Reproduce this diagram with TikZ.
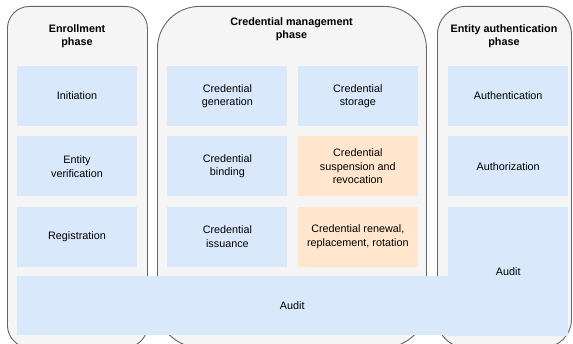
\documentclass[tikz,border=0pt]{standalone}
\usepackage{fontspec}
\setmainfont{Liberation Sans}
\usetikzlibrary{positioning}
\definecolor{phasefill}{HTML}{F5F5F5}
\definecolor{phaseline}{HTML}{666666}
\definecolor{stepblue}{HTML}{DAE8FC}
\definecolor{steporange}{HTML}{FFE6CC}

\begin{document}
\begin{tikzpicture}[
      x=1pt, y=-1pt,
      node distance=10pt and 30pt,
      every node/.style={font=\fontsize{10.8}{13.5}\selectfont, inner sep=0pt},
      phase/.style={rectangle, draw=phaseline, line width=0.9pt, fill=phasefill,
        anchor=north west, minimum height=341pt},
      title/.style={align=center, font=\fontsize{10.8}{13.5}\selectfont\bfseries},
      stepbox/.style={rectangle, fill=stepblue, minimum width=120pt,
        minimum height=60pt, align=center},
      warnbox/.style={stepbox, fill=steporange}
    ]
      \useasboundingbox (0,0) rectangle (573,344);
      \clip (0,0) rectangle (573,344);

      % Phases
      \node[phase, rounded corners=22pt, minimum width=140pt] (enroll) at (7,6) {};
      \node[phase, rounded corners=42pt, minimum width=269pt] (manage) at (157,6) {};
      \node[phase, rounded corners=28pt, minimum width=134pt] (authphase) at (437,6) {};

      % Phase titles
      \node[title] (enrolltitle) at (77,36) {Enrollment\\phase};
      \node[title] (managetitle) at (291.5,29) {Credential management\\phase};
      \node[title] (authtitle) at (504,36) {Entity authentication\\phase};

      % Enrollment steps
      \node[stepbox] (init) at (77,96) {Initiation};
      \node[stepbox, below=of init] (verify) {Entity\\verification};
      \node[stepbox, below=of verify] (register) {Registration};

      % Credential management steps
      \node[stepbox, right=of init] (generate) {Credential\\generation};
      \node[stepbox, below=of generate] (bind) {Credential\\binding};
      \node[stepbox, below=of bind] (issue) {Credential\\issuance};
      \node[stepbox, right=10pt of generate] (store) {Credential\\storage};
      \node[warnbox, below=of store] (revoke) {Credential\\suspension and\\revocation};
      \node[warnbox, below=of revoke] (renew) {Credential renewal,\\replacement, rotation};

      % Audit across all phases
      \node[stepbox, anchor=north west, minimum width=550pt, minimum height=59pt] (audit) at (17,276) {};
      \node at (audit.center) {Audit};

      % Entity authentication steps
      \node[stepbox, right=of store] (authn) {Authentication};
      \node[stepbox, below=of authn] (authz) {Authorization};
      \node[stepbox, below=of authz, minimum height=129pt, anchor=north] (authaudit) {Audit};
    \end{tikzpicture}
\end{document}
